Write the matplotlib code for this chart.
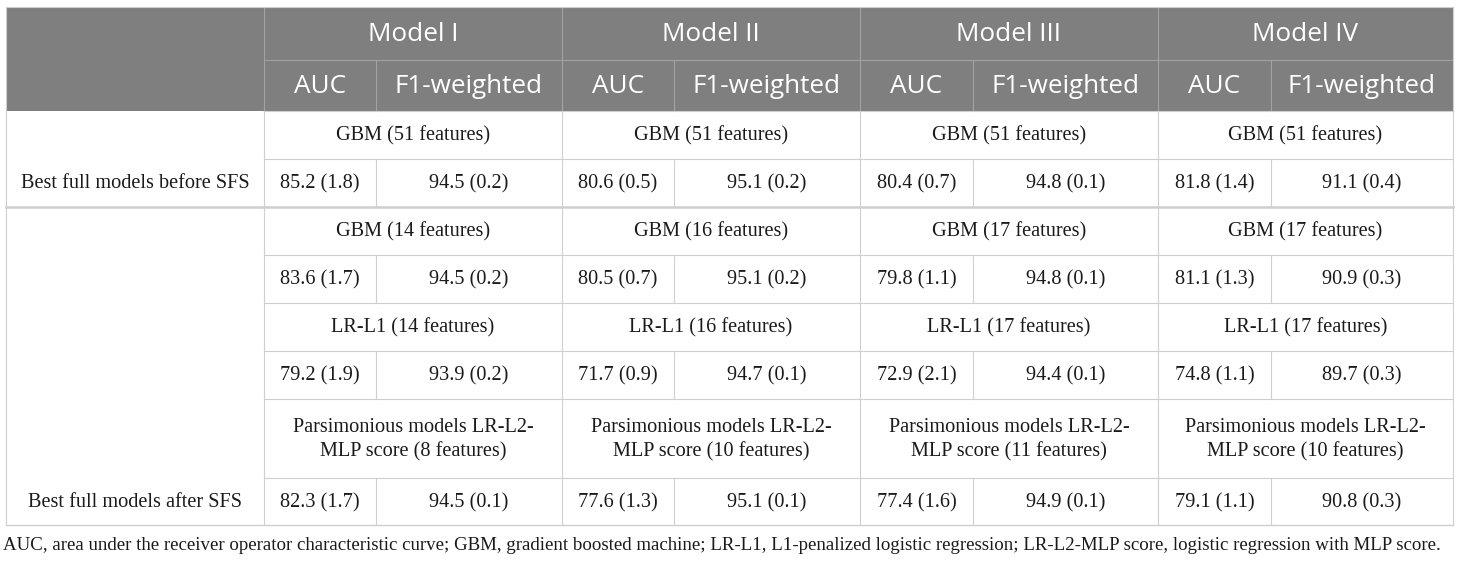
import matplotlib
matplotlib.use("Agg")
import matplotlib.pyplot as plt
from matplotlib.patches import Rectangle

# table content
models = ['Model I', 'Model II', 'Model III', 'Model IV']
metrics = ['AUC', 'F1-weighted']
row_labels = ['Best full models before SFS', 'Best full models after SFS']

before_name = ['GBM (51 features)'] * 4
before_auc = ['85.2 (1.8)', '80.6 (0.5)', '80.4 (0.7)', '81.8 (1.4)']
before_f1 = ['94.5 (0.2)', '95.1 (0.2)', '94.8 (0.1)', '91.1 (0.4)']

gbm_name = ['GBM (14 features)', 'GBM (16 features)', 'GBM (17 features)', 'GBM (17 features)']
gbm_auc = ['83.6 (1.7)', '80.5 (0.7)', '79.8 (1.1)', '81.1 (1.3)']
gbm_f1 = ['94.5 (0.2)', '95.1 (0.2)', '94.8 (0.1)', '90.9 (0.3)']

lr_name = ['LR-L1 (14 features)', 'LR-L1 (16 features)', 'LR-L1 (17 features)', 'LR-L1 (17 features)']
lr_auc = ['79.2 (1.9)', '71.7 (0.9)', '72.9 (2.1)', '74.8 (1.1)']
lr_f1 = ['93.9 (0.2)', '94.7 (0.1)', '94.4 (0.1)', '89.7 (0.3)']

pars_name = ['Parsimonious models LR-L2-\nMLP score (8 features)',
             'Parsimonious models LR-L2-\nMLP score (10 features)',
             'Parsimonious models LR-L2-\nMLP score (11 features)',
             'Parsimonious models LR-L2-\nMLP score (10 features)']
pars_auc = ['82.3 (1.7)', '77.6 (1.3)', '77.4 (1.6)', '79.1 (1.1)']
pars_f1 = ['94.5 (0.1)', '95.1 (0.1)', '94.9 (0.1)', '90.8 (0.3)']

footnote = ('AUC, area under the receiver operator characteristic curve; GBM, gradient boosted machine; '
            'LR-L1, L1-penalized logistic regression; LR-L2-MLP score, logistic regression with MLP score.')

# layout (pixel coordinates)
W, H = 1460, 563
x_left, x_right = 6, 1453
col_x = [264, 562, 860, 1158, 1453]
sub_x = [376, 674, 973, 1271]
y_top, y_h1, y_h2 = 7, 60, 111
body_y = [111, 159, 207, 255, 303, 351, 399, 478, 525]

header_col = '#7f7f7f'
header_line = '#a3a3a3'
grid_col = '#cfcfcf'
text_col = '#1a1a1a'
serif = 'Liberation Serif'
sans = 'Open Sans'
body_fs = 14.6
head_fs = 18.8

fig = plt.figure(figsize=(W / 100, H / 100), dpi=100)
ax = fig.add_axes([0, 0, 1, 1])
ax.set_xlim(0, W)
ax.set_ylim(H, 0)
ax.axis('off')

# header background
ax.add_patch(Rectangle((x_left, y_top), x_right - x_left, y_h2 - y_top,
                       facecolor=header_col, edgecolor='none'))
ax.plot([col_x[0], x_right], [y_h1, y_h1], color=header_line, lw=0.8)
for x in col_x[:-1]:
    ax.plot([x, x], [y_top, y_h2], color=header_line, lw=0.8)
for x in sub_x:
    ax.plot([x, x], [y_h1, y_h2], color=header_line, lw=0.8)

for i, m in enumerate(models):
    ax.text((col_x[i] + col_x[i + 1]) / 2, (y_top + y_h1) / 2 + 1, m, color='white',
            fontsize=head_fs, family=sans, ha='center', va='center')
    ax.text((col_x[i] + sub_x[i]) / 2, (y_h1 + y_h2) / 2 + 1, metrics[0], color='white',
            fontsize=head_fs, family=sans, ha='center', va='center')
    ax.text((sub_x[i] + col_x[i + 1]) / 2, (y_h1 + y_h2) / 2 + 1, metrics[1], color='white',
            fontsize=head_fs, family=sans, ha='center', va='center')

# body rows: (names, auc, f1), each takes two table rows
blocks = [(before_name, before_auc, before_f1),
          (gbm_name, gbm_auc, gbm_f1),
          (lr_name, lr_auc, lr_f1),
          (pars_name, pars_auc, pars_f1)]

for b, (names, aucs, f1s) in enumerate(blocks):
    ya, yb, yc = body_y[2 * b], body_y[2 * b + 1], body_y[2 * b + 2]
    for i in range(4):
        ax.text((col_x[i] + col_x[i + 1]) / 2, (ya + yb) / 2 + 1, names[i], color=text_col,
                fontsize=body_fs, family=serif, ha='center', va='center', linespacing=1.35)
        ax.text((col_x[i] + sub_x[i]) / 2, (yb + yc) / 2 + 1, aucs[i], color=text_col,
                fontsize=body_fs, family=serif, ha='center', va='center')
        ax.text((sub_x[i] + col_x[i + 1]) / 2, (yb + yc) / 2 + 1, f1s[i], color=text_col,
                fontsize=body_fs, family=serif, ha='center', va='center')
        ax.plot([sub_x[i], sub_x[i]], [yb, yc], color=grid_col, lw=0.8)
    if b != 1:
        ax.plot([col_x[0], x_right], [ya, ya], color=grid_col, lw=0.8)
    ax.plot([col_x[0], x_right], [yb, yb], color=grid_col, lw=0.8)

ax.text((x_left + col_x[0]) / 2, (body_y[1] + body_y[2]) / 2 + 1, row_labels[0], color=text_col,
        fontsize=body_fs, family=serif, ha='center', va='center')
ax.text((x_left + col_x[0]) / 2, (body_y[7] + body_y[8]) / 2 + 1, row_labels[1], color=text_col,
        fontsize=body_fs, family=serif, ha='center', va='center')

# block separator and outer border
ax.plot([x_left, x_right], [body_y[2], body_y[2]], color=grid_col, lw=1.8)
ax.plot([x_left, x_right], [body_y[-1], body_y[-1]], color=grid_col, lw=1.0)
for x in [x_left] + col_x:
    ax.plot([x, x], [body_y[0], body_y[-1]], color=grid_col, lw=0.8)
ax.plot([x_left, x_right], [y_top, y_top], color=grid_col, lw=0.8)
ax.plot([x_left, x_left], [y_top, y_h2], color=grid_col, lw=0.8)
ax.plot([x_right, x_right], [y_top, y_h2], color=grid_col, lw=0.8)

ax.text(3, 546, footnote, color=text_col, fontsize=13.6, family=serif, ha='left', va='center')

fig.savefig('out.png', dpi=100, facecolor='white')
